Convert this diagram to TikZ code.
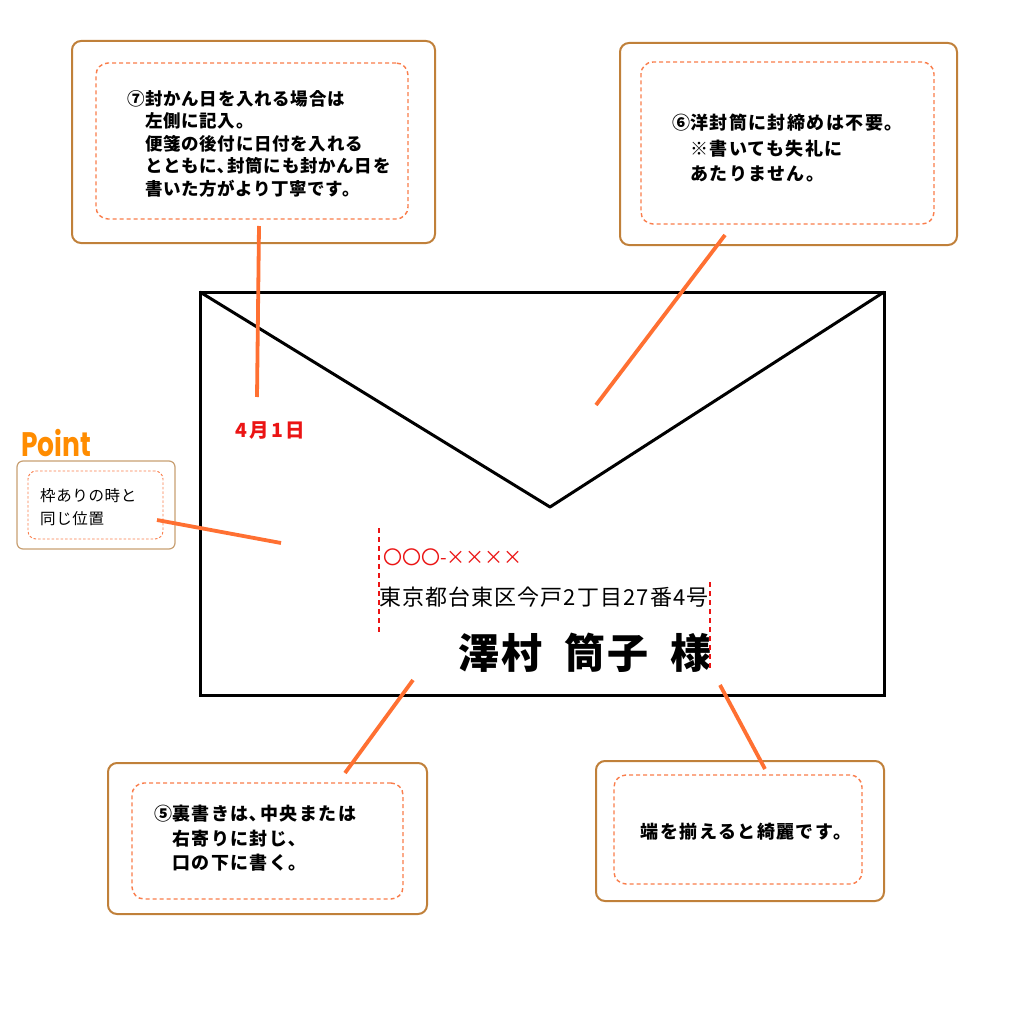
\documentclass[tikz,border=0pt]{standalone}
\usepackage{fontspec}
\usepackage{graphicx}
\setmainfont{Noto Sans CJK JP}
\newfontfamily\jp{Noto Sans CJK JP}
\newfontfamily\jpsp[LetterSpace=4]{Noto Sans CJK JP}
\newfontfamily\jpwide[LetterSpace=8]{Noto Sans CJK JP}
\newfontfamily\jpad[LetterSpace=5]{Noto Sans CJK JP}
\newfontfamily\jpdate[LetterSpace=12]{Noto Sans CJK JP}
\newfontfamily\pointfont{Poppins}
\definecolor{boxbrown}{RGB}{192,128,58}
\definecolor{tanbrown}{RGB}{200,160,115}
\definecolor{dashor}{RGB}{250,125,75}
\definecolor{lineor}{RGB}{255,112,50}
\definecolor{pointor}{RGB}{255,140,0}
\definecolor{addrred}{RGB}{235,20,20}
\tikzset{
  outerbox/.style={draw=boxbrown, line width=2pt, rounded corners=9pt, inner sep=0pt},
  innerbox/.style={draw=dashor, line width=1.4pt, dash pattern=on 4pt off 3pt, rounded corners=12pt, inner sep=0pt},
  leader/.style={draw=lineor, line width=3.8pt},
  env/.style={draw=black, line width=3pt},
  guide/.style={draw=addrred, line width=1.3pt, dash pattern=on 5pt off 4pt},
  boxtext/.style={anchor=north west, inner sep=0pt, align=left, font=\jpsp\bfseries\fontsize{17.5}{22.5}\selectfont}
}
\begin{document}
\begin{tikzpicture}[x=1pt,y=-1pt]
\useasboundingbox[fill=white] (0,0) rectangle (1024,1024);

% Envelope
\coordinate (eTL) at (200,292);
\coordinate (eTR) at (884,292);
\coordinate (eBR) at (884,695);
\coordinate (eBL) at (200,695);
\coordinate (eV) at (550,507);
\draw[env] (eTL) -- (eTR) -- (eBR) -- (eBL) -- cycle;
\draw[env, line join=round] (eTL) -- (eV) -- (eTR);

% Box 7
\node[outerbox, minimum width=363pt, minimum height=202pt] (b7) at (253.5,142) {};
\node[innerbox, minimum width=312pt, minimum height=156pt] (b7i) at (252,141) {};
\node[boxtext] (t7) at (145,90) {\llap{⑦}封かん日を入れる場合は\\左側に記入。\\便箋の後付に日付を入れる\\とともに､封筒にも封かん日を\\書いた方がより丁寧です。};

% Box 6
\node[outerbox, minimum width=337pt, minimum height=202pt] (b6) at (788.5,144) {};
\node[innerbox, minimum width=293pt, minimum height=162pt] (b6i) at (787.5,143) {};
\node[boxtext, font=\jpwide\bfseries\fontsize{18}{25.5}\selectfont] (t6) at (690,114) {\llap{⑥}洋封筒に封締めは不要。\\※書いても失礼に\\あたりません。};

% Box 5
\node[outerbox, minimum width=319pt, minimum height=151pt] (b5) at (267.5,838.5) {};
\node[innerbox, minimum width=271pt, minimum height=116pt] (b5i) at (267.5,841) {};
\node[boxtext, font=\jpwide\bfseries\fontsize{18}{24.5}\selectfont] (t5) at (172,805) {\llap{⑤}裏書きは､中央または\\右寄りに封じ､\\口の下に書く。};

% Right box
\node[outerbox, minimum width=288pt, minimum height=140pt] (br) at (740,831) {};
\node[innerbox, minimum width=248pt, minimum height=109pt] (bri) at (738,829.5) {};
\node[inner sep=0pt, font=\jpwide\bfseries\fontsize{18}{20}\selectfont] (tr) at (746,832) {端を揃えると綺麗です。};

% Point
\node[anchor=west, inner sep=0pt, text=pointor, font=\pointfont\bfseries\fontsize{34}{34}\selectfont] (pt) at (21,443) {\scalebox{0.78}[1]{Point}};
\node[draw=tanbrown, line width=1.2pt, rounded corners=6pt, minimum width=158pt, minimum height=88pt, inner sep=0pt] (bp) at (96,505) {};
\node[draw=dashor, line width=0.9pt, dash pattern=on 2.5pt off 2pt, rounded corners=8pt, minimum width=135pt, minimum height=68pt, inner sep=0pt] (bpi) at (95.5,505) {};
\node[anchor=north west, inner sep=0pt, align=left, font=\jpsp\fontsize{15.5}{23}\selectfont] (tp) at (40,488) {枠ありの時と\\同じ位置};

% Date
\node[inner sep=0pt, text=addrred, font=\jpdate\bfseries\fontsize{19.5}{19.5}\selectfont] (date) at (270,431) {4月1日};

% Address
\node[anchor=west, inner sep=0pt, text=addrred, font=\jp\fontsize{19}{19}\selectfont] (zip) at (383,557) {〇〇〇-××××};
\node[anchor=west, inner sep=0pt, font=\jpad\fontsize{22}{22}\selectfont] (addr) at (379,597) {東京都台東区今戸2丁目27番4号};
\node[anchor=east, inner sep=0pt, font=\jpad\bfseries\fontsize{41}{41}\selectfont] (name) at (712,653) {澤村\hspace{22pt}筒子\hspace{22pt}様};

% Guides
\coordinate (gL1) at (379,528);
\coordinate (gL2) at (379,635);
\coordinate (gR1) at (710,582);
\coordinate (gR2) at (710,668);
\draw[guide] (gL1) -- (gL2);
\draw[guide] (gR1) -- (gR2);

% Leaders
\coordinate (l7a) at (259,226);
\coordinate (l7b) at (257,397);
\coordinate (l6a) at (725,235);
\coordinate (l6b) at (596,405);
\coordinate (lpa) at (157,520);
\coordinate (lpb) at (281,543);
\coordinate (l5a) at (413,680);
\coordinate (l5b) at (345,773);
\coordinate (lra) at (720,685);
\coordinate (lrb) at (765,769);
\draw[leader] (l7a) -- (l7b);
\draw[leader] (l6a) -- (l6b);
\draw[leader] (lpa) -- (lpb);
\draw[leader] (l5a) -- (l5b);
\draw[leader] (lra) -- (lrb);
\end{tikzpicture}
\end{document}
